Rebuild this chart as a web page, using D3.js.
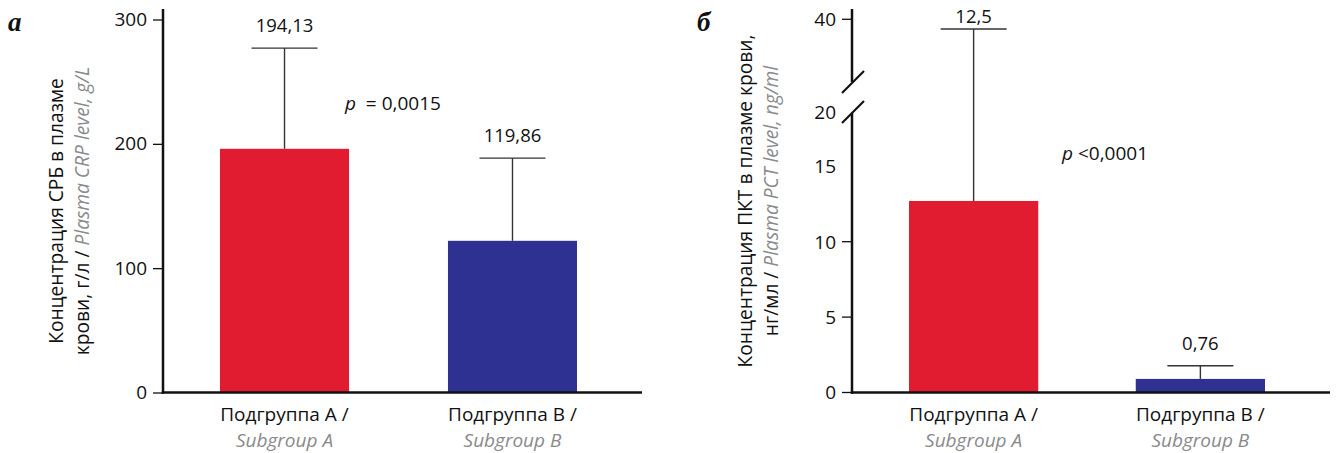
<!DOCTYPE html>
<html>
<head>
<meta charset="utf-8">
<script src="https://cdn.jsdelivr.net/npm/d3@7"></script>
<style>
  html, body { margin: 0; padding: 0; background: #fff; }
  svg { display: block; font-family: "Open Sans", sans-serif; }
</style>
</head>
<body>
<svg id="chart" width="1337" height="453"></svg>
<script>
// ---- data ----
const categoriesRu = ["Подгруппа А /", "Подгруппа В /"];
const categoriesEn = ["Subgroup A", "Subgroup B"];

const crpMeans = [196, 122];
const crpErrTop = [277, 188.5];
const crpLabels = ["194,13", "119,86"];
const crpTicks = [0, 100, 200, 300];
const crpP = ["p", "  = 0,0015"];

const pctMeans = [12.7, 0.9];
const pctErrTop = [36.9, 1.77];
const pctLabels = ["12,5", "0,76"];
const pctLowerTicks = [0, 5, 10];
const pctLowerTicksNoMark = [15];
const pctUpperTicks = [40];
const pctP = ["p", " <0,0001"];

const colors = ["#E11B30", "#2E3192"];
const grayText = "#8a8a8c";

const svg = d3.select("#chart");
const FS_NUM = 18.5;
const FS_TICK = 19;
const FS_P = 19;
const FS_XL = 19;
const FS_TITLE = 19.2;

function panelLabel(x, text) {
  svg.append("text").attr("x", x).attr("y", 31)
    .attr("font-family", "'Liberation Serif', serif")
    .attr("font-weight", "bold").attr("font-style", "italic")
    .attr("font-size", 27).attr("fill", "#111").text(text);
}

function yTitle(cx, cy, line1, line2ru, line2en) {
  const t = svg.append("text")
    .attr("transform", `translate(${cx},${cy}) rotate(-90)`)
    .attr("text-anchor", "middle").attr("font-size", FS_TITLE).attr("fill", "#111");
  t.append("tspan").attr("x", 0).attr("y", -13).text(line1);
  const l2 = t.append("tspan").attr("x", 0).attr("y", 13);
  l2.append("tspan").text(line2ru);
  l2.append("tspan").attr("fill", grayText).attr("font-style", "italic").text(line2en);
}

function xLabels(x, yBase) {
  const g = svg.append("g");
  categoriesRu.forEach((c, i) => {
    const cx = x(c) + x.bandwidth() / 2;
    g.append("text").attr("x", cx).attr("y", yBase).attr("text-anchor", "middle")
      .attr("font-size", FS_XL).attr("fill", "#111").text(c);
    g.append("text").attr("x", cx).attr("y", yBase + 26).attr("text-anchor", "middle")
      .attr("font-size", FS_XL).attr("font-style", "italic").attr("fill", grayText).text(categoriesEn[i]);
  });
}

function pText(x, y, parts) {
  const t = svg.append("text").attr("x", x).attr("y", y).attr("font-size", FS_P).attr("fill", "#111");
  t.append("tspan").attr("font-style", "italic").text(parts[0]);
  t.append("tspan").text(parts[1].replace(/ /g, "\u00a0"));
}

function bars(x, yf, means, errTop, labels) {
  const g = svg.append("g");
  const bw = x.bandwidth();
  const capW = 66;
  categoriesRu.forEach((c, i) => {
    const cx = x(c) + bw / 2;
    const y0 = yf(0), ym = yf(means[i]), ye = yf(errTop[i]);
    g.append("line").attr("x1", cx).attr("x2", cx).attr("y1", ym).attr("y2", ye)
      .attr("stroke", "#333").attr("stroke-width", 1.4);
    g.append("line").attr("x1", cx - capW / 2).attr("x2", cx + capW / 2).attr("y1", ye).attr("y2", ye)
      .attr("stroke", "#333").attr("stroke-width", 1.4);
    g.append("rect").attr("x", x(c)).attr("width", bw).attr("y", ym).attr("height", y0 - ym)
      .attr("fill", colors[i]);
    g.append("text").attr("x", cx).attr("y", Math.max(ye - 16, 23)).attr("text-anchor", "middle")
      .attr("font-size", FS_NUM).attr("fill", "#111").text(labels[i]);
  });
}

function tickGroup(axisX, yf, values, withMark) {
  const g = svg.append("g");
  values.forEach(v => {
    const yy = yf(v);
    if (withMark) {
      g.append("line").attr("x1", axisX - 10).attr("x2", axisX).attr("y1", yy).attr("y2", yy)
        .attr("stroke", "#111").attr("stroke-width", 1.3);
    }
    g.append("text").attr("x", axisX - 16).attr("y", yy).attr("dy", "0.36em")
      .attr("text-anchor", "end").attr("font-size", FS_TICK).attr("fill", "#111").text(v);
  });
}

// ================= Panel а =================
{
  const axisX = 163;
  const y = d3.scaleLinear().domain([0, 300]).range([392.5, 19.5]);
  const x = d3.scaleBand().domain(categoriesRu).range([220, 577]).paddingInner(0.434).paddingOuter(0);

  bars(x, y, crpMeans, crpErrTop, crpLabels);

  const yAxis = d3.axisLeft(y).tickValues(crpTicks).tickSize(10).tickSizeOuter(0).tickPadding(6);
  const ga = svg.append("g").attr("transform", `translate(${axisX},0)`).call(yAxis);
  ga.select(".domain").remove();
  ga.selectAll(".tick line").attr("stroke", "#111").attr("stroke-width", 1.3);
  ga.selectAll(".tick text").attr("font-size", FS_TICK).attr("font-family", "'Open Sans', sans-serif").attr("fill", "#111");
  svg.append("line").attr("x1", axisX).attr("x2", axisX).attr("y1", y(0) + 1.2).attr("y2", 9)
    .attr("stroke", "#111").attr("stroke-width", 2.5);
  svg.append("line").attr("x1", axisX - 1.2).attr("x2", 642).attr("y1", y(0)).attr("y2", y(0))
    .attr("stroke", "#111").attr("stroke-width", 2.5);

  xLabels(x, 421);
  pText(345, 110, crpP);
  panelLabel(8, "а");
  yTitle(76, 211, "Концентрация СРБ в плазме", "крови, г/л / ", "Plasma CRP level, g/L");
}

// ================= Panel б =================
{
  const axisX = 852;
  const lower = d3.scaleLinear().domain([0, 18.6]).range([392.5, 112]);
  const upper = d3.scaleLinear().domain([20, 40]).range([82, 19.3]);
  const yf = v => (v <= 18.6 ? lower(v) : upper(v));
  const x = d3.scaleBand().domain(categoriesRu).range([909, 1265]).paddingInner(0.43).paddingOuter(0);

  bars(x, yf, pctMeans, pctErrTop, pctLabels);

  tickGroup(axisX, lower, pctLowerTicks, true);
  tickGroup(axisX, lower, pctLowerTicksNoMark, false);
  tickGroup(axisX, upper, pctUpperTicks, true);
  svg.append("text").attr("x", axisX - 16).attr("y", lower(18.6)).attr("dy", "0.36em")
    .attr("text-anchor", "end").attr("font-size", FS_TICK).attr("fill", "#111").text(20);

  svg.append("line").attr("x1", axisX).attr("x2", axisX).attr("y1", lower(0) + 1.2).attr("y2", lower(18.6) + 1)
    .attr("stroke", "#111").attr("stroke-width", 2.5);
  svg.append("line").attr("x1", axisX).attr("x2", axisX).attr("y1", upper(20)).attr("y2", 9)
    .attr("stroke", "#111").attr("stroke-width", 2.5);
  [upper(20), lower(18.6)].forEach(yy => {
    svg.append("line").attr("x1", axisX - 10).attr("x2", axisX + 12).attr("y1", yy + 11).attr("y2", yy - 11)
      .attr("stroke", "#111").attr("stroke-width", 2.2);
  });
  svg.append("line").attr("x1", axisX - 1.2).attr("x2", 1330).attr("y1", lower(0)).attr("y2", lower(0))
    .attr("stroke", "#111").attr("stroke-width", 2.5);

  xLabels(x, 421);
  pText(1062, 160, pctP);
  panelLabel(697, "б");
  yTitle(765, 201, "Концентрация ПКТ в плазме крови,", "нг/мл / ", "Plasma PCT level, ng/ml");
}
</script>
</body>
</html>
